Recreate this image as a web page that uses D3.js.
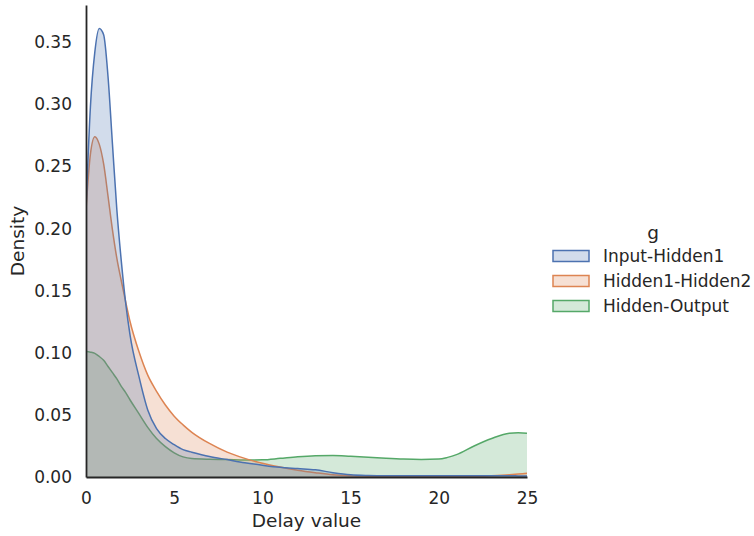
<!DOCTYPE html>
<html>
<head>
<meta charset="utf-8">
<script src="https://cdn.jsdelivr.net/npm/d3@7"></script>
<style>
	body { margin: 0; background: #fff; }
	text { font-family: "DejaVu Sans", sans-serif; fill: #262626; }
</style>
</head>
<body>
<svg id="svg_elem"></svg>
<script>
//chart data
const seriesNames = ['Input-Hidden1', 'Hidden1-Hidden2', 'Hidden-Output'];
const seriesColors = ['#4c72b0', '#dd8452', '#55a868'];
const xGrid = [0, 0.25, 0.5, 0.75, 1, 1.25, 1.5, 1.75, 2, 2.25, 2.5, 3, 3.5, 4, 4.5, 5, 5.5, 6, 7, 8, 9, 10, 11, 12, 13, 14, 15, 16, 17, 18, 19, 20, 20.5, 21, 22, 23, 24, 24.5, 25];
const inputHidden1 = [0.215, 0.298, 0.342, 0.361, 0.356, 0.322, 0.268, 0.215, 0.174, 0.140, 0.114, 0.081, 0.054, 0.039, 0.031, 0.026, 0.022, 0.020, 0.0165, 0.014, 0.0115, 0.0095, 0.0078, 0.0068, 0.0058, 0.0035, 0.0018, 0.0012, 0.001, 0.001, 0.001, 0.001, 0.001, 0.001, 0.001, 0.001, 0.001, 0.0009, 0.0008];
const hidden1Hidden2 = [0.215, 0.260, 0.274, 0.268, 0.252, 0.226, 0.199, 0.176, 0.158, 0.141, 0.125, 0.101, 0.082, 0.069, 0.058, 0.049, 0.042, 0.036, 0.027, 0.020, 0.015, 0.011, 0.008, 0.0055, 0.0035, 0.0018, 0.001, 0.0007, 0.0005, 0.0005, 0.0005, 0.0005, 0.0005, 0.0005, 0.0005, 0.001, 0.0018, 0.0024, 0.003];
const hiddenOutput = [0.101, 0.1005, 0.0995, 0.097, 0.094, 0.089, 0.084, 0.079, 0.073, 0.068, 0.062, 0.051, 0.040, 0.031, 0.0245, 0.0195, 0.0162, 0.0148, 0.0142, 0.014, 0.0136, 0.0138, 0.015, 0.0163, 0.0171, 0.0173, 0.0167, 0.016, 0.0151, 0.0144, 0.0141, 0.0144, 0.0158, 0.018, 0.025, 0.031, 0.0353, 0.0357, 0.0353];
const xTicks = [0, 5, 10, 15, 20, 25];
const yTicks = [0, 0.05, 0.10, 0.15, 0.20, 0.25, 0.30, 0.35];

//define constants
const svgWidth = 754;
const svgHeight = 536;
const margin = {left: 86, top: 5, right: 227, bottom: 59};
const plotWidth = svgWidth - margin.left - margin.right;
const plotHeight = svgHeight - margin.top - margin.bottom;

const seriesValues = [inputHidden1, hidden1Hidden2, hiddenOutput];
var series = seriesNames.map((name, i) => ({
	name: name,
	color: seriesColors[i],
	points: xGrid.map((x, j) => ({x: x, y: seriesValues[i][j]}))
}));

//scales
var xScale = d3.scaleLinear()
	.domain([0, 25])
	.range([0, plotWidth]);
var yScale = d3.scaleLinear()
	.domain([0, 0.38])
	.range([plotHeight, 0]);

//configure svg window
var svg = d3.select('#svg_elem')
	.attr('width', svgWidth)
	.attr('height', svgHeight);

var chart = svg.append('g')
	.attr('transform', `translate(${margin.left}, ${margin.top})`);

chart.append('clipPath')
	.attr('id', 'plot_clip')
	.append('rect')
		.attr('width', plotWidth)
		.attr('height', plotHeight);

var area = d3.area()
	.x(d => xScale(d.x))
	.y0(yScale(0))
	.y1(d => yScale(d.y))
	.curve(d3.curveMonotoneX);

var line = d3.line()
	.x(d => xScale(d.x))
	.y(d => yScale(d.y))
	.curve(d3.curveMonotoneX);

//draw densities, last hue first so the first one sits on top
var layers = chart.append('g')
	.attr('clip-path', 'url(#plot_clip)')
	.selectAll('.kde')
	.data(series.slice().reverse())
	.enter()
	.append('g')
		.classed('kde', true);

layers.append('path')
	.attr('d', d => area(d.points))
	.attr('fill', d => d.color)
	.attr('fill-opacity', 0.25)
	.attr('stroke', 'none');

layers.append('path')
	.attr('d', d => line(d.points))
	.attr('fill', 'none')
	.attr('stroke', d => d.color)
	.attr('stroke-width', 1.5);

//axes without tick marks
var xAxis = d3.axisBottom(xScale)
	.tickValues(xTicks)
	.tickSize(0)
	.tickPadding(15)
	.tickFormat(d3.format('d'));
var yAxis = d3.axisLeft(yScale)
	.tickValues(yTicks)
	.tickSize(0)
	.tickPadding(14)
	.tickFormat(d3.format('.2f'));

chart.append('g')
	.attr('transform', `translate(0, ${plotHeight})`)
	.call(xAxis)
	.call(g => g.select('.domain').attr('stroke', '#262626').attr('stroke-width', 1.8))
	.selectAll('text')
		.style('font-size', '17px')
		.attr('fill', '#262626');

chart.append('g')
	.call(yAxis)
	.call(g => g.select('.domain').attr('stroke', '#262626').attr('stroke-width', 1.8))
	.selectAll('text')
		.style('font-size', '17px')
		.attr('fill', '#262626');

//axis labels
chart.append('text')
	.attr('x', plotWidth / 2)
	.attr('y', plotHeight + 50)
	.attr('text-anchor', 'middle')
	.style('font-size', '18.5px')
	.text('Delay value');

chart.append('text')
	.attr('transform', `translate(${18 - margin.left}, ${plotHeight / 2}) rotate(-90)`)
	.attr('text-anchor', 'middle')
	.attr('dy', '0.35em')
	.style('font-size', '18.5px')
	.text('Density');

//legend
var legend = svg.append('g')
	.attr('transform', 'translate(553, 0)');

legend.append('text')
	.attr('x', 100)
	.attr('y', 239)
	.attr('text-anchor', 'middle')
	.style('font-size', '18.5px')
	.text('g');

var legendRows = legend.selectAll('.legend_row')
	.data(series)
	.enter()
	.append('g')
		.classed('legend_row', true)
		.attr('transform', (d, i) => `translate(0, ${256 + i * 25})`);

legendRows.append('rect')
	.attr('x', 0)
	.attr('y', -5.5)
	.attr('width', 36)
	.attr('height', 11)
	.attr('fill', d => d.color)
	.attr('fill-opacity', 0.25)
	.attr('stroke', d => d.color)
	.attr('stroke-width', 1.5);

legendRows.append('text')
	.attr('x', 50)
	.attr('dy', '0.35em')
	.style('font-size', '17px')
	.text(d => d.name);
</script>
</body>
</html>
